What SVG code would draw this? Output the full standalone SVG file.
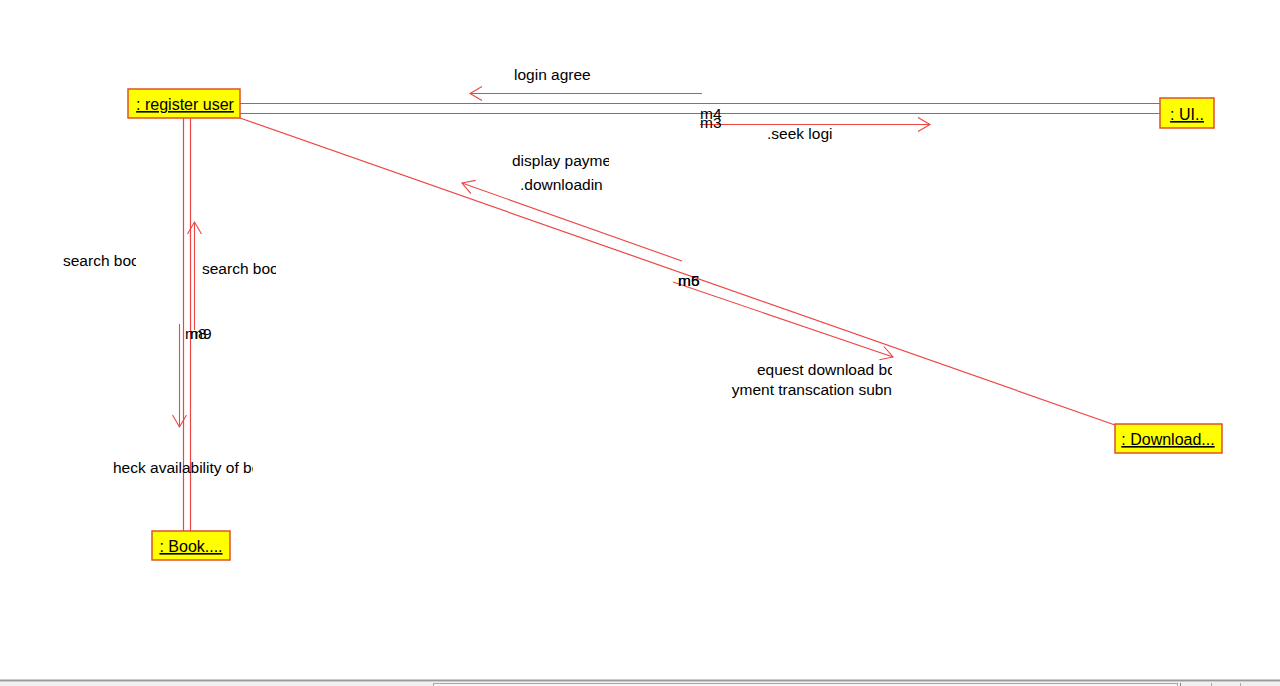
<svg xmlns="http://www.w3.org/2000/svg" width="1280" height="686" viewBox="0 0 1280 686">
<style>
.node rect{fill:#ffff00;stroke:#e0502a;stroke-width:1.5}
.node text{font-family:"Liberation Sans",Arial,sans-serif;font-size:16px;fill:#000;text-anchor:middle;text-decoration:underline}
.link{stroke:#ee4444;stroke-width:1.2;fill:none}
.msg{stroke:#ee4444;stroke-width:1.1;fill:none}
.lbl{font-family:"Liberation Sans",Arial,sans-serif;font-size:15.5px;fill:#000}
</style>
<defs>
<marker id="ah" markerWidth="16" markerHeight="18" refX="0" refY="0" viewBox="-14 -9 16 18" orient="auto" markerUnits="userSpaceOnUse">
<path d="M-12,-7 L0,0 L-12,7" fill="none" stroke="#ee4444" stroke-width="1.1"/>
</marker>
<clipPath id="c1"><rect x="50" y="245" width="86" height="30"/></clipPath>
<clipPath id="c2"><rect x="200" y="255" width="76" height="30"/></clipPath>
<clipPath id="c3"><rect x="100" y="455" width="153" height="30"/></clipPath>
<clipPath id="c4"><rect x="505" y="148" width="104" height="50"/></clipPath>
<clipPath id="c5"><rect x="700" y="358" width="192" height="45"/></clipPath>
</defs>
<rect x="0" y="0" width="1280" height="686" fill="#ffffff"/>
<g id="connectors">
<line class="link" x1="240" y1="103.5" x2="1160" y2="103.5"/>
<line class="link" x1="240" y1="113.5" x2="1160" y2="113.5"/>
<line class="link" x1="183.5" y1="118" x2="183.5" y2="531"/>
<line class="link" x1="190.5" y1="118" x2="190.5" y2="531"/>
<line class="link" x1="240" y1="118" x2="1115" y2="425"/>
<line class="msg" x1="702" y1="93.5" x2="470" y2="93.5" marker-end="url(#ah)"/>
<line class="msg" x1="700" y1="124.5" x2="930" y2="124.5" marker-end="url(#ah)"/>
<line class="msg" x1="682" y1="261" x2="462" y2="183" marker-end="url(#ah)"/>
<line class="msg" x1="673" y1="282" x2="893" y2="357" marker-end="url(#ah)"/>
<line class="msg" x1="194.5" y1="330" x2="194.5" y2="222" marker-end="url(#ah)"/>
<line class="msg" x1="179.5" y1="324" x2="179.5" y2="427" marker-end="url(#ah)"/>
<text class="lbl" x="514" y="80">login agree</text>
<text class="lbl" x="767" y="139">.seek logi</text>
<text class="lbl" x="700" y="119" font-size="14">m4</text>
<text class="lbl" x="700" y="128" font-size="14">m3</text>
<text class="lbl" x="512" y="166" clip-path="url(#c4)">display payment</text>
<text class="lbl" x="520" y="190" clip-path="url(#c4)">.downloadin</text>
<text class="lbl" x="678" y="286" font-size="14">m6</text>
<text class="lbl" x="678" y="286" font-size="14">m5</text>
<text class="lbl" x="757" y="375" clip-path="url(#c5)">equest download boo</text>
<text class="lbl" x="892" y="395" text-anchor="end">yment transcation subn</text>
<text class="lbl" x="63" y="266" clip-path="url(#c1)">search boo</text>
<text class="lbl" x="202" y="274" clip-path="url(#c2)">search boo</text>
<text class="lbl" x="185" y="339" font-size="14">m8</text>
<text class="lbl" x="190" y="339" font-size="14">m9</text>
<text class="lbl" x="113" y="473" clip-path="url(#c3)">heck availability of boo</text>
</g>
<g id="node-register-user" class="node">
<rect x="128" y="89" width="112" height="29"/>
<text x="185" y="110">: register user</text>
</g>
<g id="node-ui" class="node">
<rect x="1160" y="98" width="54" height="30"/>
<text x="1187" y="120">: UI..</text>
</g>
<g id="node-download" class="node">
<rect x="1115" y="424" width="107" height="29"/>
<text x="1168" y="445">: Download...</text>
</g>
<g id="node-book" class="node">
<rect x="152" y="531" width="78" height="29"/>
<text x="191" y="552">: Book....</text>
</g>
<g id="scrollbar">
<rect x="0" y="679.5" width="1280" height="2" fill="#9a9a9a"/>
<rect x="0" y="682" width="1280" height="4" fill="#f0f0f0"/>
<rect x="433.5" y="683.5" width="744" height="4" fill="#f6f6f6" stroke="#a8a8a8" stroke-width="1"/>
<line x1="1180.5" y1="683" x2="1180.5" y2="686" stroke="#888"/>
<line x1="1211.5" y1="683" x2="1211.5" y2="686" stroke="#aaa"/>
<line x1="1240.5" y1="683" x2="1240.5" y2="686" stroke="#aaa"/>
</g>
</svg>
